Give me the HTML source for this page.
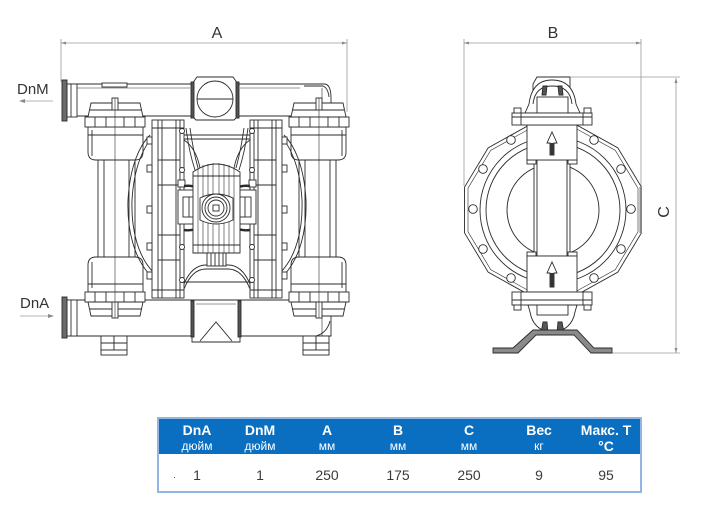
<!DOCTYPE html>
<html><head><meta charset="utf-8">
<style>
html,body{margin:0;padding:0;background:#fff;}
body{width:722px;height:530px;position:relative;overflow:hidden;font-family:"Liberation Sans","DejaVu Sans",sans-serif;}
svg{position:absolute;left:0;top:0;}
.tbl{position:absolute;left:157px;top:417px;width:481px;height:72px;border:2px solid #92b6e2;background:#fff;}
.hd{position:absolute;left:0;top:0;width:481px;height:35px;background:#0a6fc1;}
.c{position:absolute;width:90px;margin-left:-45px;text-align:center;white-space:nowrap;}
.h1{top:3px;font-size:14px;line-height:16px;font-weight:bold;color:#fff;}
.h2{top:21px;font-size:12px;line-height:13px;color:#fff;}
.h2b{top:20px;font-size:14px;line-height:15px;font-weight:bold;color:#fff;}
.v{top:48px;font-size:14px;line-height:16px;color:#3a3a3a;}
</style></head><body>
<svg width="722" height="530" viewBox="0 0 722 530" xmlns="http://www.w3.org/2000/svg">
<defs>
<g id="col">
  <rect x="98" y="158" width="37" height="102"/>
  <line x1="104" y1="160" x2="104" y2="258"/>
  <line x1="129" y1="160" x2="129" y2="258"/>
  <path d="M88 127 H143 V152 Q143 160 135 160 H96 Q88 160 88 152 Z"/>
  <line x1="92" y1="130" x2="92" y2="156"/>
  <line x1="88" y1="135" x2="143" y2="135"/>
  <rect x="85" y="117" width="60" height="10"/>
  <line x1="95" y1="117" x2="95" y2="127"/><line x1="106" y1="117" x2="106" y2="127"/>
  <line x1="124" y1="117" x2="124" y2="127"/><line x1="135" y1="117" x2="135" y2="127"/>
  <path d="M88 117 L91 103 H140 L143 117 Z"/>
  <line x1="90" y1="110" x2="142" y2="110"/>
  <rect x="112" y="98" width="6" height="12"/>
  <path d="M88 292 V265 Q88 257 96 257 H135 Q143 257 143 265 V292 Z"/>
  <line x1="92" y1="262" x2="92" y2="288"/>
  <line x1="88" y1="284" x2="143" y2="284"/>
  <rect x="85" y="292" width="60" height="10"/>
  <line x1="95" y1="292" x2="95" y2="302"/><line x1="106" y1="292" x2="106" y2="302"/>
  <line x1="124" y1="292" x2="124" y2="302"/><line x1="135" y1="292" x2="135" y2="302"/>
  <path d="M88 302 L91 316 H140 L143 302 Z"/>
  <line x1="90" y1="309" x2="142" y2="309"/>
  <rect x="112" y="302" width="6" height="16"/>
  <line x1="115" y1="98" x2="115" y2="318" stroke-width="0.6"/>
  <path d="M150 135 C140 145,130 165,128 200 C127 230,134 258,150 275" fill="none"/>
  <path d="M154 135 C144 146,134 166,132 200 C131 230,138 257,154 273" fill="none"/>
  <rect x="152" y="120" width="32" height="178"/>
  <line x1="158" y1="120" x2="158" y2="298"/>
  <line x1="162" y1="120" x2="162" y2="298"/>
  <line x1="176" y1="120" x2="176" y2="298"/>
  <line x1="180" y1="120" x2="180" y2="298"/>
  <line x1="152" y1="128" x2="184" y2="128"/>
  <line x1="152" y1="290" x2="184" y2="290"/>
  <line x1="158" y1="160" x2="180" y2="160"/>
  <line x1="158" y1="185" x2="180" y2="185"/>
  <line x1="158" y1="235" x2="180" y2="235"/>
  <line x1="158" y1="260" x2="180" y2="260"/>
  <rect x="147" y="137" width="5" height="7"/>
  <rect x="147" y="165" width="5" height="7"/>
  <rect x="147" y="206" width="5" height="7"/>
  <rect x="147" y="243" width="5" height="7"/>
  <rect x="147" y="272" width="5" height="7"/>
  <circle cx="182" cy="131" r="2.5"/><circle cx="182" cy="170" r="2.5"/>
  <circle cx="182" cy="208" r="2.5"/><circle cx="182" cy="247" r="2.5"/><circle cx="182" cy="280" r="2.5"/>
  <path d="M186 128 Q189 152 195 170" fill="none"/>
  <path d="M190 128 Q193 150 198 168" fill="none"/>
  <path d="M184 140 Q196 148 200 168" fill="none"/>
  <rect x="178" y="190" width="21" height="34"/>
  <rect x="183" y="197" width="12" height="20"/>
  <line x1="189" y1="197" x2="189" y2="217"/>
  <rect x="178" y="180" width="7" height="7"/>
  <path d="M184 186 Q200 184 206 198" fill="none" stroke-width="2.4"/>
  <path d="M184 230 Q200 232 206 219" fill="none" stroke-width="2.4"/>
  <path d="M184 284 Q192 265 206 265 H217" fill="none"/>
  <path d="M184 289 Q192 269 206 269 H217" fill="none"/>
</g>
</defs>

<!-- dimension lines -->
<g fill="none" stroke="#9a9a9a" stroke-width="0.8">
 <line x1="61" y1="43" x2="347" y2="43"/>
 <line x1="61" y1="39" x2="61" y2="82"/>
 <line x1="347" y1="39" x2="347" y2="112"/>
 <line x1="464" y1="43" x2="641" y2="43"/>
 <line x1="464" y1="39" x2="464" y2="186"/>
 <line x1="641" y1="39" x2="641" y2="186"/>
 <line x1="676" y1="78" x2="676" y2="353"/>
 <line x1="571" y1="77" x2="680" y2="77"/>
 <line x1="612" y1="353" x2="680" y2="353"/>
 <line x1="22" y1="101" x2="53" y2="101"/>
 <line x1="20" y1="316" x2="50" y2="316"/>
</g>
<g fill="#8a8a8a">
 <polygon points="61,43 66,41.5 66,44.5"/>
 <polygon points="347,43 342,41.5 342,44.5"/>
 <polygon points="464,43 469,41.5 469,44.5"/>
 <polygon points="641,43 636,41.5 636,44.5"/>
 <polygon points="676,78 674.5,83 677.5,83"/>
 <polygon points="676,353 674.5,348 677.5,348"/>
 <polygon points="19,101 25,99 25,103"/>
 <polygon points="54,316 48,314 48,318"/>
</g>
<g font-family="Liberation Sans, sans-serif" fill="#333">
 <text x="217" y="38" font-size="16" text-anchor="middle">A</text>
 <text x="553" y="38" font-size="16" text-anchor="middle">B</text>
 <text x="0" y="0" font-size="16" text-anchor="middle" transform="translate(669,212) rotate(-90)">C</text>
 <text x="17" y="94" font-size="15">DnM</text>
 <text x="20" y="308" font-size="15">DnA</text>
</g>

<!-- LEFT VIEW -->
<g fill="#fff" stroke="#2b2b2b" stroke-width="0.9">
 <path d="M67 84 H325 Q331 85 331 98 V116 H67 Z"/>
 <line x1="77" y1="88" x2="190" y2="88" stroke-width="0.5"/>
 <line x1="240" y1="88" x2="300" y2="88" stroke-width="0.5"/>
 <rect x="102" y="83" width="25" height="4"/>
 <path d="M304 86 H323 Q328 88 329 97" fill="none"/>
 <line x1="322" y1="88" x2="322" y2="110" stroke-width="0.6"/>
 <path d="M67 300 H331 V336 H67 Z"/>
 <path d="M316 336 Q327 333 330 321" fill="none"/>
 <line x1="322" y1="318" x2="322" y2="336" stroke-width="0.6"/>
 <!-- left flanges -->
 <rect x="67" y="84" width="10" height="33"/>
 <line x1="71" y1="84" x2="71" y2="117"/>
 <rect x="62" y="80" width="5" height="41" fill="#6a6a6a"/>
 <rect x="67" y="300" width="10" height="36"/>
 <line x1="71" y1="300" x2="71" y2="336"/>
 <rect x="62" y="297" width="5" height="41" fill="#6a6a6a"/>
 <!-- feet -->
 <rect x="101" y="336" width="13" height="14"/><rect x="114" y="336" width="13" height="14"/>
 <line x1="101" y1="343" x2="127" y2="343"/><rect x="101" y="350" width="26" height="5"/>
 <rect x="303" y="336" width="13" height="14"/><rect x="316" y="336" width="13" height="14"/>
 <line x1="303" y1="343" x2="329" y2="343"/><rect x="303" y="350" width="26" height="5"/>

 <use href="#col"/>
 <use href="#col" transform="matrix(-1,0,0,1,434,0)"/>

 <!-- center body -->
 <line x1="184" y1="135" x2="250" y2="135"/>
 <line x1="184" y1="139" x2="250" y2="139"/>
 <line x1="184" y1="282" x2="250" y2="282"/>
 <path d="M193 253 V172 Q216 156 240 172 V253 Z"/>
 <g stroke-width="0.6">
  <line x1="198" y1="168" x2="198" y2="253"/><line x1="203" y1="165" x2="203" y2="253"/>
  <line x1="208" y1="164" x2="208" y2="253"/><line x1="213" y1="163" x2="213" y2="253"/>
  <line x1="219" y1="163" x2="219" y2="253"/><line x1="224" y1="164" x2="224" y2="253"/>
  <line x1="229" y1="165" x2="229" y2="253"/><line x1="234" y1="168" x2="234" y2="253"/>
 </g>
 <line x1="193" y1="245" x2="240" y2="245"/>
 <line x1="193" y1="176" x2="240" y2="176"/>
 <path d="M200 198 Q216 190 233 198 L233 220 Q216 228 200 220 Z"/>
 <circle cx="216" cy="208" r="14"/>
 <circle cx="216" cy="208" r="11"/>
 <circle cx="216" cy="208" r="8"/>
 <rect x="213" y="205" width="6" height="6"/>
 <rect x="207" y="253" width="19" height="13"/>
 <line x1="211" y1="253" x2="211" y2="266"/><line x1="215" y1="253" x2="215" y2="266"/>
 <line x1="219" y1="253" x2="219" y2="266"/><line x1="223" y1="253" x2="223" y2="266"/>
 <!-- top port -->
 <path d="M192 84 L197 77 H233 L238 84 V116 L234 120 H196 L192 116 Z"/>
 <rect x="191" y="82" width="3" height="36" fill="#555"/>
 <rect x="236" y="82" width="3" height="36" fill="#555"/>
 <circle cx="215" cy="99" r="18"/>
 <line x1="197" y1="99" x2="233" y2="99"/>
 <!-- bottom port -->
 <path d="M192 300 H240 V342 H192 Z"/>
 <rect x="191" y="301" width="3" height="36" fill="#555"/>
 <rect x="238" y="301" width="3" height="36" fill="#555"/>
 <path d="M200 341 L216 322 L232 341" fill="none"/>
 <line x1="196" y1="304" x2="236" y2="304" stroke-width="0.6"/>
</g>

<!-- RIGHT VIEW -->
<g fill="#fff" stroke="#2b2b2b" stroke-width="0.9">
 <polygon points="641.5,232.8 617.8,272.2 576.7,295 529.3,295 488.2,272.2 464.5,232.8 464.5,187.2 488.2,147.8 529.3,125 576.7,125 617.8,147.8 641.5,187.2"/>
 <polygon fill="none" stroke-width="0.6" points="638,231.8 615.3,269.6 575.9,291.5 530.1,291.5 490.7,269.6 468,231.8 468,188.2 490.7,150.4 530.1,128.5 575.9,128.5 615.3,150.4 638,188.2"/>
 <rect x="639.5" y="187" width="2.5" height="46" fill="#888" stroke="none"/>
 <circle cx="553" cy="210" r="73"/>
 <circle cx="553" cy="210" r="67"/>
 <circle cx="553" cy="210" r="46"/>
 <circle cx="511" cy="140" r="4.3"/><circle cx="594" cy="140" r="4.3"/>
 <circle cx="483" cy="169" r="4.3"/><circle cx="621" cy="169" r="4.3"/>
 <circle cx="473" cy="209" r="4.3"/><circle cx="631" cy="209" r="4.3"/>
 <circle cx="483" cy="249" r="4.3"/><circle cx="621" cy="249" r="4.3"/>
 <circle cx="511" cy="278" r="4.3"/><circle cx="594" cy="278" r="4.3"/>
 <!-- column -->
 <rect x="534" y="160" width="36" height="96"/>
 <line x1="537" y1="160" x2="537" y2="256"/>
 <line x1="567" y1="160" x2="567" y2="256"/>
 <rect x="527" y="160" width="9" height="4"/><rect x="568" y="160" width="9" height="4"/>
 <rect x="527" y="252" width="9" height="4"/><rect x="568" y="252" width="9" height="4"/>
 <rect x="527" y="125" width="50" height="35"/>
 <rect x="527" y="256" width="50" height="36"/>
 <!-- top back box & dome -->
 <path d="M533 113 V84 L537 77 H570 V113 Z"/>
 <path d="M525 113 L529 104 Q532 80 552 80 Q573 80 576 104 L580 113 Z"/>
 <path d="M533 104 Q535 86 552 86 Q570 86 572 104" fill="none"/>
 <rect x="537" y="97" width="31" height="16"/>
 <path d="M542 95 L543 86 L547 86 L546 95 Z M559 95 L558 86 L562 86 L563 95 Z" fill="#555"/>
 <rect x="512" y="113" width="80" height="12"/>
 <line x1="512" y1="117" x2="592" y2="117"/>
 <line x1="521" y1="113" x2="521" y2="125"/><line x1="583" y1="113" x2="583" y2="125"/>
 <rect x="514" y="108" width="7" height="5"/><rect x="584" y="108" width="7" height="5"/>
 <!-- bottom flange & dome -->
 <rect x="512" y="292" width="80" height="13"/>
 <line x1="512" y1="300" x2="592" y2="300"/>
 <line x1="521" y1="292" x2="521" y2="305"/><line x1="583" y1="292" x2="583" y2="305"/>
 <rect x="514" y="305" width="7" height="5"/><rect x="584" y="305" width="7" height="5"/>
 <path d="M528 305 H577 L575 312 Q572 330 552 333 Q533 330 530 312 Z"/>
 <rect x="537" y="305" width="31" height="10"/>
 <path d="M541 333 L543 322 L547 322 L548 333 Z M557 333 L558 322 L562 322 L564 333 Z" fill="#555"/>
 <!-- base -->
 <path d="M493 348 H513 L533 330 H577 L594 348 H612 V353 H591 L574 335 H536 L518 353 H493 Z" fill="#8a8a8a"/>
 <!-- arrows -->
 <path d="M547 143 L552 132 L557 143 H554 V155 H550 V143 Z" fill="#fff"/>
 <rect x="550.5" y="143" width="3" height="12" fill="#333" stroke="none"/>
 <path d="M547 273 L552 262 L557 273 H554 V287 H550 V273 Z" fill="#fff"/>
 <rect x="550.5" y="273" width="3" height="14" fill="#333" stroke="none"/>
</g>
</svg>

<div class="tbl">
 <div class="hd"></div>
 <div class="c h1" style="left:38px">DnA</div>
 <div class="c h1" style="left:101px">DnM</div>
 <div class="c h1" style="left:168px">A</div>
 <div class="c h1" style="left:239px">B</div>
 <div class="c h1" style="left:310px">C</div>
 <div class="c h1" style="left:380px">Вес</div>
 <div class="c h1" style="left:447px">Макс. T</div>
 <div class="c h2" style="left:38px">дюйм</div>
 <div class="c h2" style="left:101px">дюйм</div>
 <div class="c h2" style="left:168px">мм</div>
 <div class="c h2" style="left:239px">мм</div>
 <div class="c h2" style="left:310px">мм</div>
 <div class="c h2" style="left:380px">кг</div>
 <div class="c h2b" style="left:447px">°C</div>
 <div style="position:absolute;left:15px;top:58px;width:1px;height:1px;background:#666;"></div>
 <div class="c v" style="left:38px">1</div>
 <div class="c v" style="left:101px">1</div>
 <div class="c v" style="left:168px">250</div>
 <div class="c v" style="left:239px">175</div>
 <div class="c v" style="left:310px">250</div>
 <div class="c v" style="left:380px">9</div>
 <div class="c v" style="left:447px">95</div>
</div>
</body></html>
